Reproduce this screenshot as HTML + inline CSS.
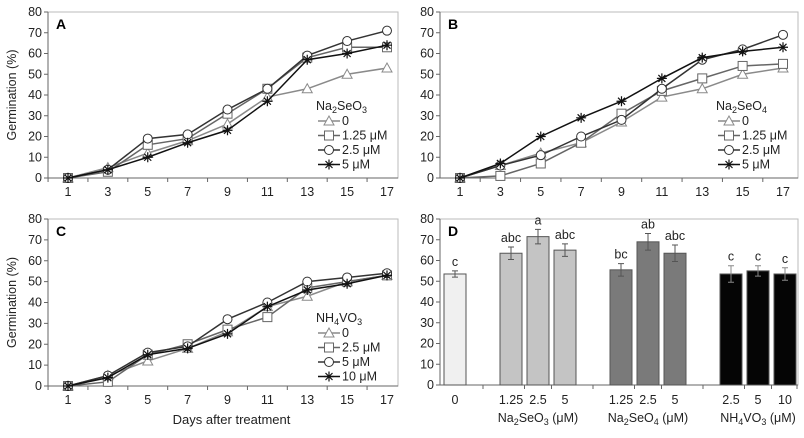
<!DOCTYPE html>
<html><head><meta charset="utf-8"><style>
body{margin:0;background:#fff}
svg{font-family:"Liberation Sans",Arial,sans-serif}
</style></head><body>
<svg id="s" width="804" height="433" xmlns="http://www.w3.org/2000/svg"></svg>
<script>
const days=[1,3,5,7,9,11,13,15,17];
const yTicks=[0,10,20,30,40,50,60,70,80];
const aSeries={s0:[0,5,12,18,26,39,43,50,53],s125:[0,3,16,19,31,43,58,63,63],s25:[0,4,19,21,33,43,59,66,71],s5:[0,4,10,17,23,37,57,60,64]};
const bSeries={s0:[0,6,12,17,27,39,43,50,53],s125:[0,1,7,17,31,42,48,54,55],s25:[0,6,11,20,28,43,57,62,69],s5:[0,7,20,29,37,48,58,61,63]};
const cSeries={s0:[0,5,12,18,26,38,43,50,53],s25:[0,2,15,20,27,33,47,50,53],s5:[0,5,16,19,32,40,50,52,54],s10:[0,4,15,18,25,38,46,49,53]};
const barLabels=["0","1.25","2.5","5","1.25","2.5","5","2.5","5","10"];
const barGroups=[0,1,1,1,2,2,2,3,3,3];
const barValues=[53.5,63.5,71.5,65,55.5,69,63.5,53.5,55,53.5];
const barErrors=[1.5,3,3.5,3,3,4,4,4,2.5,3];
const barLetters=["c","abc","a","abc","bc","ab","abc","c","c","c"];
const groupFill=["#f0f0f0","#c4c4c4","#7a7a7a","#050505"];

const svg=document.getElementById('s');
const NS="http://www.w3.org/2000/svg";
function el(t,a,p){const e=document.createElementNS(NS,t);for(const k in a)e.setAttribute(k,a[k]);(p||svg).appendChild(e);return e;}
function txt(x,y,s,a,p){const e=el('text',Object.assign({x:x,y:y,'font-size':12,fill:'#222','text-anchor':'middle'},a||{}),p);e.textContent=s;return e;}
function subText(t,parts){parts.forEach(([s,sub],k)=>{const ts=el('tspan',sub?{'font-size':9,dy:3}:(k>0?{dy:-3}:{}),t);ts.textContent=s;});}

function marker(g,type,x,y,col){
  if(type==='tri'){el('polygon',{points:`${x},${y-5} ${x-5},${y+4} ${x+5},${y+4}`,fill:'#fff',stroke:col,'stroke-width':1},g);}
  else if(type==='sq'){el('rect',{x:x-4.5,y:y-4.5,width:9,height:9,fill:'#fff',stroke:col,'stroke-width':1},g);}
  else if(type==='circ'){el('circle',{cx:x,cy:y,r:4.5,fill:'#fff',stroke:col,'stroke-width':1},g);}
  else {const p=`M${x-5},${y}H${x+5}M${x},${y-5}V${y+5}M${x-3.5},${y-3.5}L${x+3.5},${y+3.5}M${x-3.5},${y+3.5}L${x+3.5},${y-3.5}`;el('path',{d:p,stroke:col,'stroke-width':1.2,fill:'none'},g);}
}
const st=[{m:'tri',c:'#8a8a8a'},{m:'sq',c:'#666'},{m:'circ',c:'#333'},{m:'star',c:'#111'}];

function linePanel(name,box,x0,x1,yTop,yBot,series,legendTitle,legendLabels,leg,showYTitle,showXTitle){
  const g=el('g',{});
  
  
  const X=d=>x0+(d-1)/16*(x1-x0);
  const Y=v=>yBot-v/80*(yBot-yTop);
  el('rect',{x:box[0],y:yTop,width:box[1]-box[0],height:yBot-yTop,fill:'none',stroke:'#bbb','stroke-width':1},g);
  el('line',{x1:box[0],y1:yBot,x2:box[1],y2:yBot,stroke:'#666'},g);
  el('line',{x1:box[0],y1:yTop,x2:box[0],y2:yBot,stroke:'#666'},g);
  yTicks.forEach(t=>{el('line',{x1:box[0]-4,x2:box[0],y1:Y(t),y2:Y(t),stroke:'#666'},g);txt(box[0]-6,Y(t)+4,String(t),{'text-anchor':'end','font-size':12.5},g);});
  for(let d=0;d<=18;d+=2){const xx=X(d);if(xx>=box[0]&&xx<=box[1])el('line',{x1:xx,x2:xx,y1:yBot,y2:yBot+4,stroke:'#666'},g);}
  days.forEach(d=>txt(X(d),yBot+18,String(d),{'font-size':12.5},g));
  txt(box[0]+8,yTop+17,box[2],{'text-anchor':'start','font-weight':'bold','font-size':14,fill:'#000'},g);
  if(showYTitle)txt(0,0,'Germination (%)',{transform:`translate(16,${(yTop+yBot)/2}) rotate(-90)`,'font-size':12.5},g);
  if(showXTitle)txt((x0+x1)/2+4,yBot+38,'Days after treatment',{'font-size':13},g);
  Object.keys(series).forEach((k,i)=>{
    const s=st[i];
    const pts=series[k].map((v,j)=>`${X(days[j])},${Y(v)}`).join(' ');
    const sg=el('g',{},g);
    
    
    el('polyline',{points:pts,fill:'none',stroke:s.c,'stroke-width':1.5},sg);
    series[k].forEach((v,j)=>marker(sg,s.m,X(days[j]),Y(v),s.c));
  });
  const lg=el('g',{},g);
  
  
  const tt=txt(leg[0],leg[1],'',{'text-anchor':'start','font-size':12.5},lg);
  subText(tt,legendTitle);
  legendLabels.forEach((s,i)=>{
    const y=leg[1]+15+i*14.5;
    const e=el('g',{},lg);
    
    
    el('line',{x1:leg[0]+2,x2:leg[0]+24,y1:y-4,y2:y-4,stroke:st[i].c,'stroke-width':1.5},e);
    marker(e,st[i].m,leg[0]+13,y-4,st[i].c);
    txt(leg[0]+26,y,s,{'text-anchor':'start','font-size':12.5},e);
  });
}
linePanel('panel-a',[48,398,'A'],68,387,12,178,aSeries,[['Na',0],['2',1],['SeO',0],['3',1]],['0','1.25 μM','2.5 μM','5 μM'],[316,110],true,false);
linePanel('panel-b',[440,798,'B'],460,783,12,178,bSeries,[['Na',0],['2',1],['SeO',0],['4',1]],['0','1.25 μM','2.5 μM','5 μM'],[716,110],false,false);
linePanel('panel-c',[48,398,'C'],68,387,219,386,cSeries,[['NH',0],['4',1],['VO',0],['3',1]],['0','2.5 μM','5 μM','10 μM'],[316,322],true,true);

(function(){
  const g=el('g',{});
  
  
  const L=440,R=798,yT=219,yB=385;
  const Y=v=>yB-v/80*(yB-yT);
  el('rect',{x:L,y:yT,width:R-L,height:yB-yT,fill:'none',stroke:'#bbb'},g);
  el('line',{x1:L,y1:yB,x2:R,y2:yB,stroke:'#666'},g);
  el('line',{x1:L,y1:yT,x2:L,y2:yB,stroke:'#666'},g);
  yTicks.forEach(t=>{el('line',{x1:L-4,x2:L,y1:Y(t),y2:Y(t),stroke:'#666'},g);txt(L-6,Y(t)+4,String(t),{'text-anchor':'end','font-size':12.5},g);});
  txt(L+8,yT+17,'D',{'text-anchor':'start','font-weight':'bold','font-size':14,fill:'#000'},g);
  const slot=27,gap=29,bw=22;
  const cx=[];let pos=455;
  barValues.forEach((v,i)=>{if(i>0){pos+=slot;if(barGroups[i]!==barGroups[i-1])pos+=gap;}cx.push(pos);});
  barValues.forEach((v,i)=>{
    const b=el('rect',{x:cx[i]-bw/2,y:Y(v),width:bw,height:yB-Y(v),fill:groupFill[barGroups[i]],stroke:'#555','stroke-width':1},g);
    
    
    const e=barErrors[i];
    const ec=barGroups[i]===3?'#888':'#555';
    el('path',{d:`M${cx[i]},${Y(v+e)}V${Y(v-e)}M${cx[i]-3},${Y(v+e)}H${cx[i]+3}M${cx[i]-3},${Y(v-e)}H${cx[i]+3}`,stroke:ec,'stroke-width':1,fill:'none'},g);
    txt(cx[i],Y(v+e)-5,barLetters[i],{'font-size':12.5},g);
    txt(cx[i],yB+19,barLabels[i],{'font-size':12.5},g);
  });
  for(let i=0;i<cx.length-1;i++){const m=(cx[i]+cx[i+1])/2;el('line',{x1:m,x2:m,y1:yB,y2:yB+4,stroke:'#666'},g);}
  el('line',{x1:R-1,x2:R-1,y1:yB,y2:yB+4,stroke:'#666'},g);
  [[1,'Na','2','SeO','3'],[2,'Na','2','SeO','4'],[3,'NH','4','VO','3']].forEach(([gi,a,b,c,d])=>{
    const idx=barGroups.map((x,i)=>x===gi?i:-1).filter(i=>i>=0);
    const mid=(cx[idx[0]]+cx[idx[idx.length-1]])/2;
    const t=txt(mid,yB+37,'',{'font-size':12.5},g);
    
    
    subText(t,[[a,0],[b,1],[c,0],[d,1],[' (μM)',0]]);
  });
})();
</script>
</body></html>
